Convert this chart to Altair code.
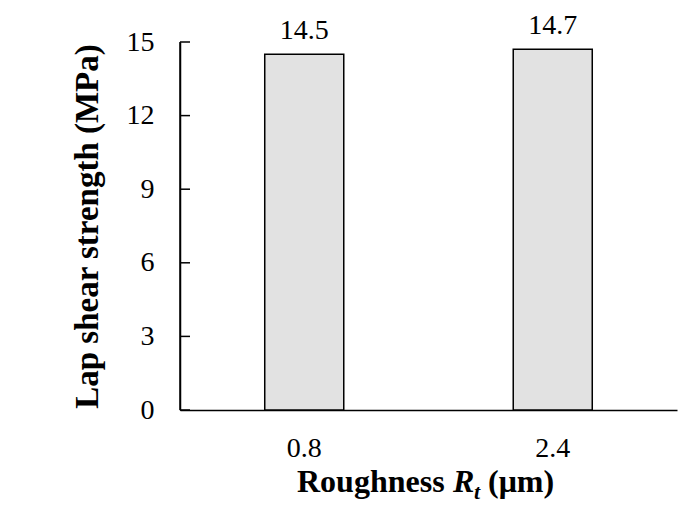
import altair as alt
import pandas as pd

categories = ["0.8", "2.4"]
strength = [14.5, 14.7]
value_labels = ["14.5", "14.7"]
y_ticks = [0, 3, 6, 9, 12, 15]
x_title_parts = ["Roughness", "R", "t", "(μm)"]
y_title = "Lap shear strength (MPa)"

FONT = "Liberation Serif"

df = pd.DataFrame({"rough": categories, "mpa": strength, "lab": value_labels})
ticks_df = pd.DataFrame({"mpa": y_ticks})

x_enc = alt.X(
    "rough:N", sort=categories, title=None,
    scale=alt.Scale(paddingInner=0.682, paddingOuter=0.341),
    axis=alt.Axis(labelAngle=0, labelFont=FONT, labelFontSize=28, labelColor="black",
                  ticks=False, tickSize=0, labelPadding=24, domain=True,
                  domainColor="black", domainWidth=1.5, grid=False),
)
y_enc = alt.Y(
    "mpa:Q", scale=alt.Scale(domain=[0, 15], nice=False, zero=True), title=y_title,
    axis=alt.Axis(values=y_ticks, ticks=False, tickSize=0, labelPadding=26,
                  labelFont=FONT, labelFontSize=28, labelColor="black", grid=False,
                  titleFont=FONT, titleFontSize=33, titleFontWeight="bold",
                  titleColor="black", titlePadding=22, domain=True,
                  domainColor="black", domainWidth=1.5),
)

bars = alt.Chart(df).mark_bar(fill="#e2e2e2", stroke="black", strokeWidth=1.5).encode(
    x=x_enc, y=y_enc
)

labels = alt.Chart(df).mark_text(
    font=FONT, fontSize=28, baseline="alphabetic", dy=-15, color="black"
).encode(x=x_enc, y=y_enc, text="lab:N")

tick_rules = alt.Chart(ticks_df).mark_rule(color="black", strokeWidth=1.5).encode(
    y=y_enc, x=alt.value(0), x2=alt.value(10),
)

y_line = alt.Chart(pd.DataFrame({"mpa": [15]})).mark_rule(color="black", strokeWidth=1.5).encode(
    y=y_enc, y2=alt.value(368), x=alt.value(0),
)

def piece(txt, px, py, size, weight, style):
    return alt.Chart(pd.DataFrame({"t": [txt]})).mark_text(
        font=FONT, fontSize=size, fontWeight=weight, fontStyle=style,
        align="left", baseline="alphabetic", color="black"
    ).encode(x=alt.value(px), y=alt.value(py), text="t:N")

t1 = piece(x_title_parts[0], 117, 450, 32, "bold", "normal")
t2 = piece(x_title_parts[1], 273, 450, 32, "bold", "italic")
t3 = piece(x_title_parts[2], 294, 457, 22, "bold", "italic")
t4 = piece(x_title_parts[3], 308, 450, 32, "bold", "normal")

chart = alt.layer(bars, labels, tick_rules, y_line, t1, t2, t3, t4).properties(
    width=497, height=368,
    autosize=alt.AutoSizeParams(type="none"),
    padding={"left": 180, "top": 42, "right": 1, "bottom": 109},
    background="white",
).configure_view(stroke=None)

chart.save("out.html", embed_options={"renderer": "svg", "actions": False})
